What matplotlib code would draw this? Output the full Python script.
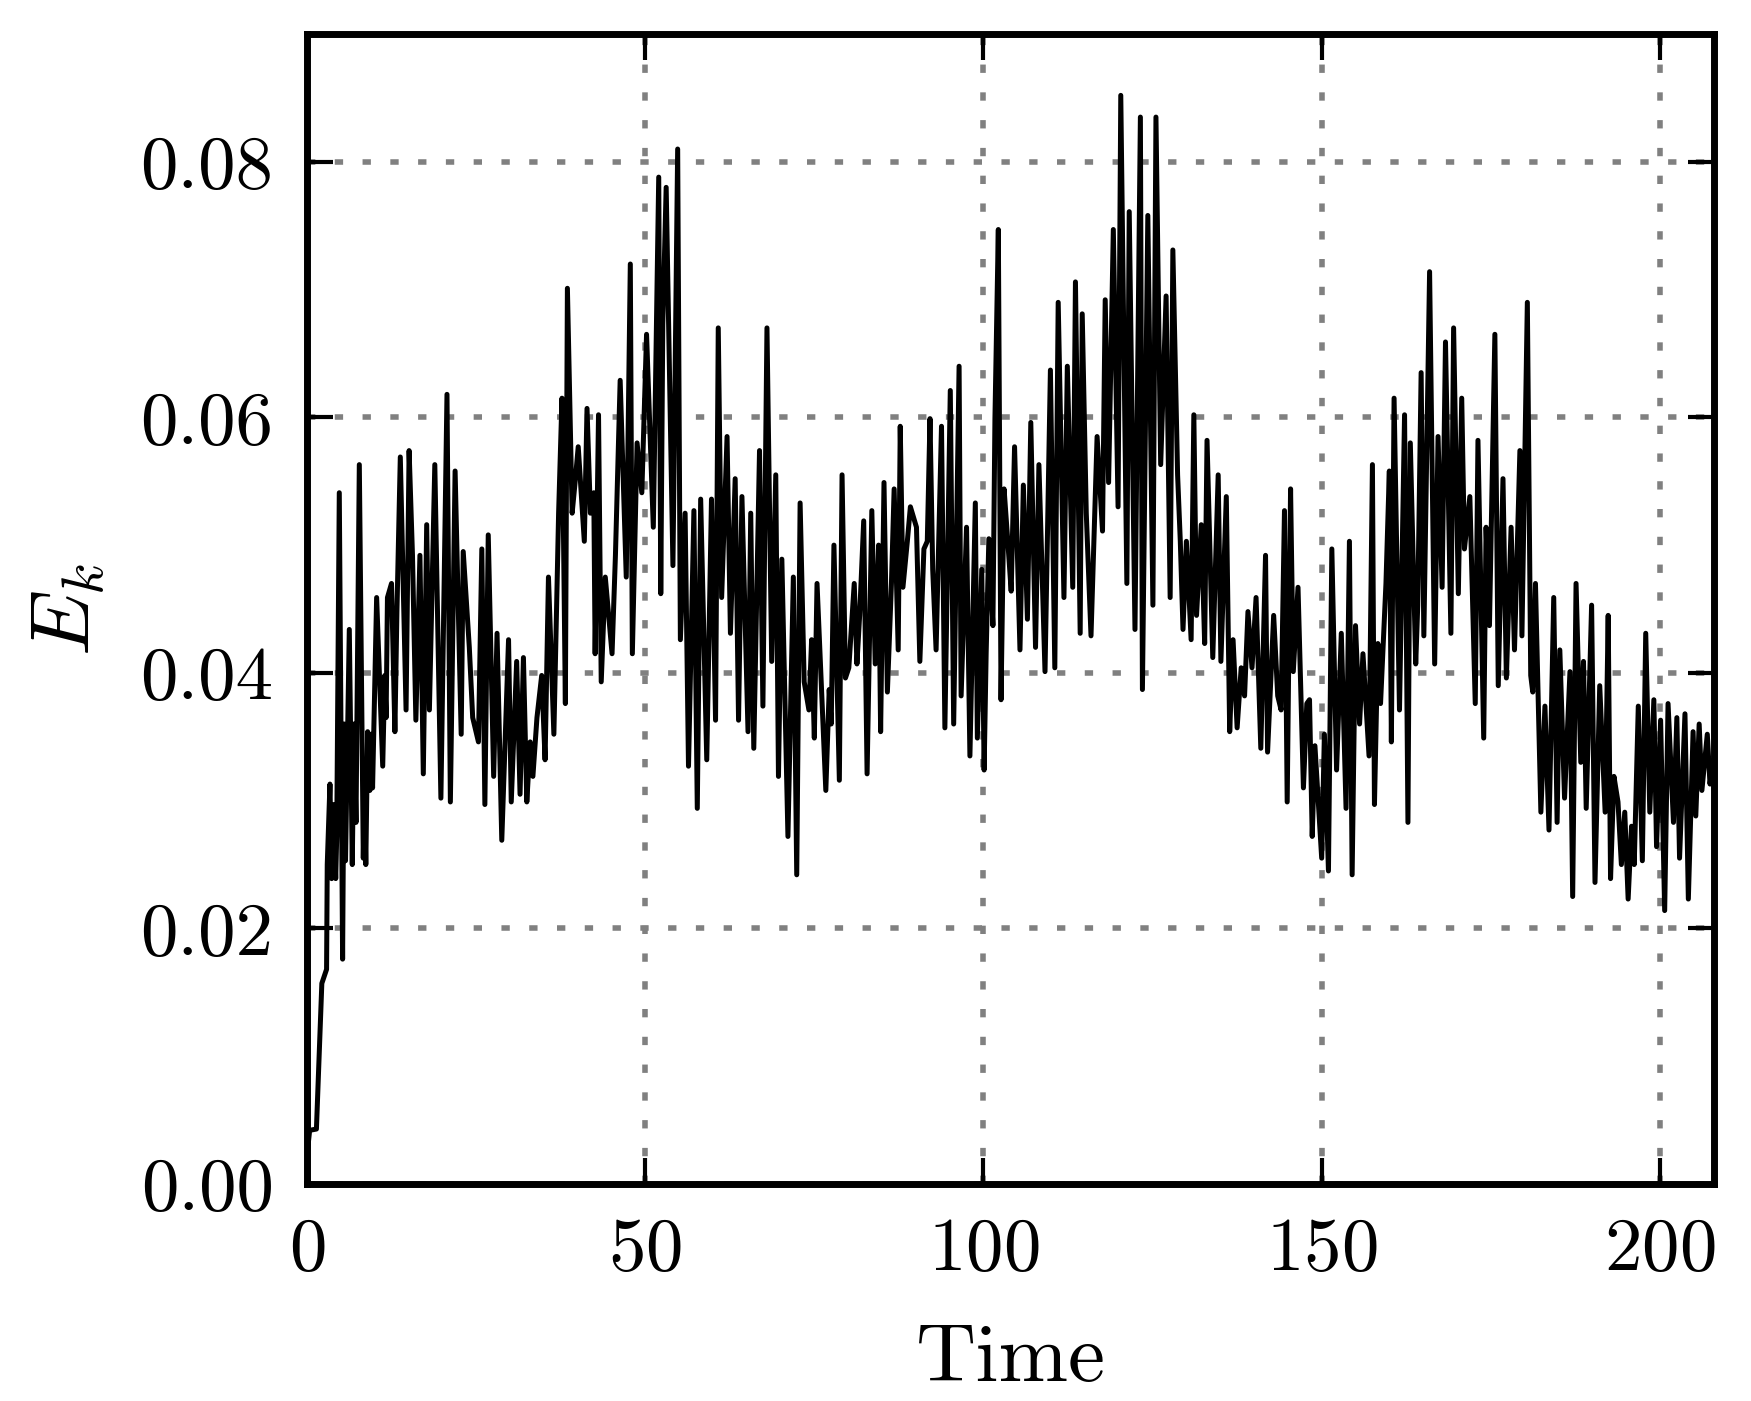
import matplotlib
matplotlib.use("Agg")
import matplotlib.pyplot as plt

# values (time, kinetic energy)
time = [0.0, 0.4, 1.4, 2.2, 2.9, 3.0, 3.4, 3.65, 3.9, 4.25, 4.4, 4.78, 5.27, 5.5, 5.7, 6.26, 6.7, 6.95, 7.25, 7.74,
        8.33, 8.5, 8.7, 8.97, 9.3, 9.5, 9.7, 10.3, 11.2, 11.5, 11.7, 11.9, 12.5, 13.0, 13.3, 13.8, 14.65, 15.1, 15.6, 16.1,
        16.7, 17.2, 17.7, 18.1, 18.9, 19.8, 20.7, 21.2, 21.9, 22.8, 23.1, 24.0, 24.5, 25.35, 25.85, 26.3, 26.8, 27.6, 28.1, 28.8,
        29.8, 30.2, 31.0, 31.5, 32.0, 32.5, 33.0, 33.4, 34.0, 34.7, 35.2, 35.7, 36.5, 37.2, 37.7, 38.2, 38.5, 39.2, 39.6, 40.1,
        41.0, 41.4, 41.9, 42.4, 42.6, 43.1, 43.5, 44.1, 45.1, 45.6, 46.3, 47.2, 47.8, 48.1, 48.8, 49.5, 50.2, 51.2, 52.0, 52.3,
        52.6, 53.1, 54.1, 54.8, 55.2, 55.9, 56.4, 57.2, 57.7, 58.2, 59.1, 59.8, 60.4, 60.8, 61.3, 62.1, 62.6, 63.3, 63.8, 64.3,
        65.2, 65.6, 66.05, 66.9, 67.4, 68.0, 68.7, 69.3, 69.7, 70.2, 71.1, 71.9, 72.4, 72.9, 73.5, 74.2, 74.6, 75.0, 75.4, 76.2,
        76.7, 77.2, 77.5, 77.9, 78.7, 79.1, 79.6, 80.1, 80.9, 81.3, 81.7, 82.3, 82.8, 83.5, 84.0, 84.5, 84.8, 85.3, 85.8, 86.4,
        86.8, 87.4, 87.7, 88.1, 88.75, 89.2, 90.1, 90.6, 91.2, 91.7, 92.1, 92.5, 93.0, 93.8, 94.3, 95.1, 95.6, 96.4, 96.7, 97.5,
        98.0, 98.8, 99.1, 99.75, 100.1, 100.4, 100.8, 101.4, 101.7, 102.2, 102.6, 103.05, 103.6, 104.1, 104.6, 105.4, 105.9, 106.5, 107.0, 107.7,
        108.2, 109.1, 109.9, 110.55, 111.05, 111.9, 112.4, 113.2, 113.6, 114.3, 114.6, 115.2, 115.9, 116.8, 117.6, 118.0, 118.5, 119.2, 119.9, 120.3,
        121.2, 121.55, 122.4, 123.2, 123.5, 124.3, 125.05, 125.5, 126.2, 127.0, 127.6, 128.0, 128.7, 129.1, 129.5, 130.0, 130.7, 131.1, 131.5, 132.2,
        132.7, 133.05, 133.9, 134.7, 135.1, 135.9, 136.4, 136.9, 137.5, 138.1, 138.6, 139.1, 139.7, 140.3, 141.0, 141.7, 142.0, 142.9, 143.5, 144.0,
        144.5, 144.9, 145.4, 145.8, 146.5, 147.3, 147.8, 148.2, 148.6, 149.0, 150.0, 150.4, 151.0, 151.5, 152.2, 152.9, 153.6, 154.1, 154.5, 155.0,
        155.6, 156.1, 157.0, 157.5, 157.8, 158.3, 158.7, 159.5, 160.0, 160.3, 160.7, 161.5, 162.25, 162.75, 163.1, 163.9, 164.2, 164.7, 165.1, 165.95,
        166.7, 167.2, 167.8, 168.3, 169.1, 169.5, 170.2, 170.7, 171.1, 171.9, 172.7, 173.1, 173.95, 174.3, 174.8, 175.6, 176.1, 176.8, 177.3, 178.0,
        178.5, 179.3, 179.6, 180.4, 180.9, 181.2, 181.6, 182.4, 183.0, 183.6, 184.3, 184.8, 185.2, 185.9, 186.7, 187.1, 187.6, 188.3, 188.7, 189.1,
        189.9, 190.4, 191.1, 191.9, 192.35, 192.7, 193.2, 193.8, 194.3, 194.8, 195.3, 195.8, 196.2, 196.8, 197.4, 197.9, 198.5, 199.1, 199.5, 200.1,
        200.7, 201.2, 202.0, 202.5, 202.9, 203.7, 204.2, 204.9, 205.3, 205.8, 206.2, 207.0, 207.4, 207.9, 208.0]

ek = [0.0022, 0.0042, 0.0043, 0.0157, 0.0168, 0.025, 0.0313, 0.0239, 0.0297, 0.0239, 0.0272, 0.0541, 0.0176, 0.036, 0.0253, 0.0434, 0.025, 0.036, 0.0283, 0.0563,
      0.0255, 0.0305, 0.025, 0.0354, 0.0308, 0.0352, 0.031, 0.0459, 0.0327, 0.0398, 0.0365, 0.0459, 0.047, 0.0354, 0.0448, 0.0569, 0.0371, 0.0574, 0.0492, 0.0363,
      0.0492, 0.0321, 0.0516, 0.0371, 0.0563, 0.0302, 0.0618, 0.0299, 0.0558, 0.0352, 0.0495, 0.042, 0.0365, 0.0346, 0.0497, 0.0297, 0.0508, 0.0319, 0.0431, 0.0269,
      0.0426, 0.0299, 0.0409, 0.0305, 0.0412, 0.0299, 0.0346, 0.0319, 0.0365, 0.0398, 0.0332, 0.0475, 0.0352, 0.0525, 0.0615, 0.0376, 0.0701, 0.0525, 0.0547, 0.0577,
      0.0503, 0.0607, 0.0525, 0.0541, 0.0415, 0.0602, 0.0393, 0.0475, 0.0415, 0.0492, 0.0629, 0.0475, 0.072, 0.0415, 0.058, 0.0541, 0.0665, 0.0514, 0.0788, 0.0462,
      0.0673, 0.078, 0.0484, 0.081, 0.0426, 0.0525, 0.0327, 0.0527, 0.0294, 0.0536, 0.0332, 0.0536, 0.0363, 0.067, 0.0459, 0.0585, 0.0431, 0.0552, 0.0363, 0.0538,
      0.0354, 0.0525, 0.0341, 0.0574, 0.0374, 0.067, 0.0409, 0.0555, 0.0319, 0.0489, 0.0272, 0.0475, 0.0242, 0.0533, 0.0393, 0.0371, 0.0426, 0.0349, 0.047, 0.0371,
      0.0308, 0.0387, 0.036, 0.05, 0.0316, 0.0555, 0.0396, 0.0404, 0.047, 0.0407, 0.0445, 0.0519, 0.0321, 0.0527, 0.0407, 0.05, 0.0354, 0.0549, 0.0385, 0.047,
      0.0544, 0.0418, 0.0593, 0.0467, 0.0503, 0.053, 0.0514, 0.0409, 0.0497, 0.0503, 0.0599, 0.0481, 0.0418, 0.0593, 0.0357, 0.0621, 0.036, 0.064, 0.0382, 0.0514,
      0.0335, 0.0533, 0.0349, 0.0481, 0.0324, 0.0415, 0.0505, 0.0437, 0.0599, 0.0747, 0.0379, 0.0544, 0.0503, 0.0464, 0.0577, 0.0418, 0.0547, 0.0442, 0.0596, 0.042,
      0.0563, 0.0401, 0.0637, 0.0404, 0.069, 0.0459, 0.064, 0.0467, 0.0706, 0.0431, 0.0681, 0.0525, 0.0429, 0.0585, 0.0511, 0.0692, 0.0549, 0.0747, 0.053, 0.0852,
      0.047, 0.0761, 0.0434, 0.0835, 0.0387, 0.0758, 0.0453, 0.0835, 0.0563, 0.0695, 0.0459, 0.0731, 0.0555, 0.0503, 0.0434, 0.0503, 0.0426, 0.0602, 0.0445, 0.0516,
      0.0423, 0.0582, 0.0412, 0.0555, 0.0409, 0.0538, 0.0354, 0.0426, 0.0357, 0.0404, 0.0382, 0.0448, 0.0404, 0.0459, 0.0341, 0.0492, 0.0338, 0.0445, 0.0382, 0.0371,
      0.0527, 0.0299, 0.0544, 0.0401, 0.0467, 0.031, 0.0376, 0.0379, 0.0272, 0.0343, 0.0255, 0.0352, 0.0245, 0.0497, 0.0324, 0.0431, 0.0294, 0.0503, 0.0242, 0.0437,
      0.036, 0.0415, 0.0335, 0.0563, 0.0297, 0.0423, 0.0376, 0.047, 0.0558, 0.0346, 0.0615, 0.0371, 0.0602, 0.0283, 0.058, 0.0407, 0.0453, 0.0635, 0.0429, 0.0714,
      0.0407, 0.0585, 0.0467, 0.0659, 0.0431, 0.067, 0.0462, 0.0615, 0.0497, 0.0538, 0.0376, 0.0582, 0.0349, 0.0514, 0.0437, 0.0665, 0.039, 0.0552, 0.0396, 0.0514,
      0.0418, 0.0574, 0.0429, 0.069, 0.0398, 0.0385, 0.047, 0.0291, 0.0374, 0.0277, 0.0459, 0.0283, 0.0418, 0.0302, 0.0401, 0.0225, 0.047, 0.033, 0.0409, 0.0294,
      0.0453, 0.0236, 0.039, 0.0291, 0.0445, 0.0239, 0.0319, 0.0299, 0.025, 0.0291, 0.0223, 0.028, 0.025, 0.0374, 0.0253, 0.0431, 0.0291, 0.0379, 0.0264, 0.0363,
      0.0214, 0.0376, 0.0283, 0.0365, 0.0255, 0.0368, 0.0223, 0.0354, 0.0288, 0.036, 0.0308, 0.0352, 0.0313, 0.0332, 0.031]

plt.rcParams['font.family'] = 'serif'
plt.rcParams['font.serif'] = ['cmr10']
plt.rcParams['mathtext.fontset'] = 'cm'
plt.rcParams['axes.formatter.use_mathtext'] = True

fig = plt.figure(figsize=(8.755, 7.005), dpi=200)
ax = fig.add_axes([0.1753, 0.1549, 0.8036, 0.8208])

ax.plot(time, ek, color='black', lw=1.8, zorder=3)

ax.set_xlim(0, 208)
ax.set_ylim(0, 0.09)
ax.set_xticks([0, 50, 100, 150, 200])
ax.set_yticks([0.0, 0.02, 0.04, 0.06, 0.08])
ax.yaxis.set_major_formatter(matplotlib.ticker.FormatStrFormatter('%.2f'))

ax.grid(True, color='0.5', linestyle=(0, (1.5, 3.5)), lw=2)
for s in ax.spines.values():
    s.set_linewidth(2.5)
ax.tick_params(direction='in', top=True, right=True, length=9.5, width=1.5,
               labelsize=27, pad=12)

ax.set_xlabel('Time', fontsize=30, labelpad=14)
ax.set_ylabel(r'$E_k$', fontsize=30, labelpad=12)

fig.savefig('out.png', dpi=200)
